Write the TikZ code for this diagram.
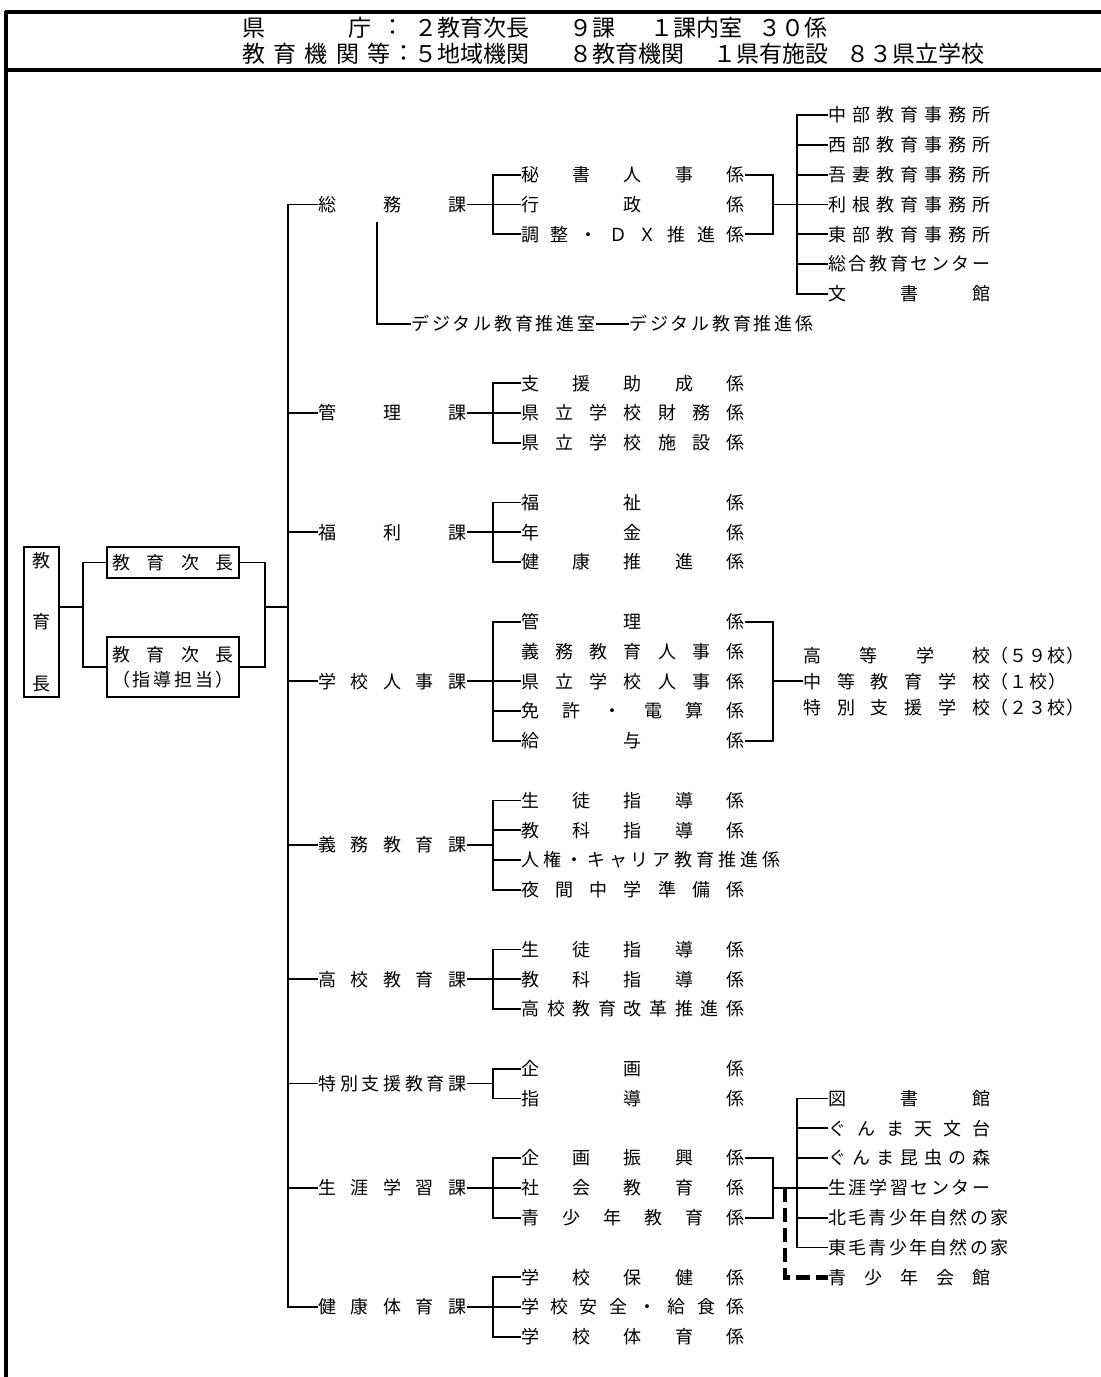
\documentclass[tikz,border=0pt]{standalone}
\usepackage{fontspec}
\setmainfont{Noto Sans CJK JP}
\usetikzlibrary{positioning}

\makeatletter
\newcommand\spreadtext[2]{\hbox to #1{\spr@first#2\@nil}}
\def\spr@first#1{#1\spr@rest}
\def\spr@rest#1{\ifx#1\@nil\else\hfil#1\expandafter\spr@rest\fi}
\makeatother
\newcommand\rowy[1]{115+29.8*#1}
\def\secw{74pt}
\def\subw{111.5pt}
\def\grpw{81pt}

\tikzset{
  org/.style={line width=0.9pt},
  frameline/.style={line width=2pt},
  lab/.style={anchor=west,inner sep=0pt,font=\fontsize{9pt}{11pt}\selectfont,text height=7.9pt,text depth=1.1pt},
  headtxt/.style={anchor=west,inner sep=0pt,font=\fontsize{11.5pt}{13pt}\selectfont},
  headbox/.style={draw,line width=0.9pt,inner sep=0pt,font=\fontsize{9pt}{12.5pt}\selectfont,align=center},
  dashlink/.style={line width=2.4pt,dash pattern=on 7pt off 3pt},
}

\begin{document}
\begin{tikzpicture}[x=0.5pt,y=-0.5pt]
\useasboundingbox (0,0) rectangle (1101,1377);
\fill[white] (0,0) rectangle (1101,1377);
% frame and header
\draw[frameline,line width=1.6pt] (5,12) -- (1101,12);
\draw[frameline,line width=2.2pt] (5,70) -- (1101,70);
\draw[frameline] (6,11) -- (6,1377);
\node[headtxt] (hken) at (242,28) {県};
\node[headtxt] (hchou) at (348,28) {庁};
\node[headtxt] (hcolona) at (381,28) {：};
\node[headtxt] (hjichou) at (414,28) {２教育次長};
\node[headtxt] (hka) at (569,28) {９課};
\node[headtxt] (hshitsu) at (650,28) {１課内室};
\node[headtxt] (hkakari) at (758,28) {３０係};
\node[headtxt] (hkikan) at (242,54) {\spreadtext{74pt}{教育機関等}};
\node[headtxt] (hcolonb) at (392,54) {：};
\node[headtxt] (hchiiki) at (414,54) {５地域機関};
\node[headtxt] (hkyouiku) at (569,54) {８教育機関};
\node[headtxt] (hshisetsu) at (713,54) {１県有施設};
\node[headtxt] (hgakkou) at (846,54) {８３県立学校};

% top of the tree
\node[headbox,minimum width=17.5pt,minimum height=75pt,font=\fontsize{9pt}{30.75pt}\selectfont] (chief) at (41.5,622) {教\\育\\長};
\node[headbox,minimum width=66pt,minimum height=15.5pt] (vice1) at (173,562.5) {\spreadtext{61pt}{教育次長}};
\node[headbox,minimum width=66pt,minimum height=30pt] (vice2) at (173,667) {\spreadtext{61pt}{教育次長}\\\spreadtext{61pt}{（指導担当）}};
\coordinate (jl) at (83,607);
\coordinate (jr) at (265,607);
\coordinate (trunk) at (288,607);
\coordinate (bk) at (493,0);
\coordinate (rb) at (773,0);
\coordinate (dv) at (785,0);
\coordinate (gv) at (797,0);
\draw[org] (chief.east |- jl) -- (jl);
\draw[org] (vice1.west) -| (jl) |- (vice2.west);
\draw[org] (vice1.east) -| (jr) |- (vice2.east);
\draw[org] (jr) -- (trunk);

% sections
\node[lab] (soumu) at (318,{\rowy{3}}) {\spreadtext{\secw}{総務課}};
\node[lab] (kanri) at (318,{\rowy{10}}) {\spreadtext{\secw}{管理課}};
\node[lab] (fukuri) at (318,{\rowy{14}}) {\spreadtext{\secw}{福利課}};
\node[lab] (jinji) at (318,{\rowy{19}}) {\spreadtext{\secw}{学校人事課}};
\node[lab] (gimu) at (318,{\rowy{24.5}}) {\spreadtext{\secw}{義務教育課}};
\node[lab] (koukou) at (318,{\rowy{29}}) {\spreadtext{\secw}{高校教育課}};
\node[lab] (tokushi) at (318,{\rowy{32.5}}) {\spreadtext{\secw}{特別支援教育課}};
\node[lab] (shougai) at (318,{\rowy{36}}) {\spreadtext{\secw}{生涯学習課}};
\node[lab] (kentai) at (318,{\rowy{40}}) {\spreadtext{\secw}{健康体育課}};

% units
\node[lab] (soumu1) at (521,{\rowy{2}}) {\spreadtext{\subw}{秘書人事係}};
\node[lab] (soumu2) at (521,{\rowy{3}}) {\spreadtext{\subw}{行政係}};
\node[lab] (soumu3) at (521,{\rowy{4}}) {\spreadtext{\subw}{調整・ＤＸ推進係}};
\node[lab] (kanri1) at (521,{\rowy{9}}) {\spreadtext{\subw}{支援助成係}};
\node[lab] (kanri2) at (521,{\rowy{10}}) {\spreadtext{\subw}{県立学校財務係}};
\node[lab] (kanri3) at (521,{\rowy{11}}) {\spreadtext{\subw}{県立学校施設係}};
\node[lab] (fukuri1) at (521,{\rowy{13}}) {\spreadtext{\subw}{福祉係}};
\node[lab] (fukuri2) at (521,{\rowy{14}}) {\spreadtext{\subw}{年金係}};
\node[lab] (fukuri3) at (521,{\rowy{15}}) {\spreadtext{\subw}{健康推進係}};
\node[lab] (jinji1) at (521,{\rowy{17}}) {\spreadtext{\subw}{管理係}};
\node[lab] (jinji2) at (521,{\rowy{18}}) {\spreadtext{\subw}{義務教育人事係}};
\node[lab] (jinji3) at (521,{\rowy{19}}) {\spreadtext{\subw}{県立学校人事係}};
\node[lab] (jinji4) at (521,{\rowy{20}}) {\spreadtext{\subw}{免許・電算係}};
\node[lab] (jinji5) at (521,{\rowy{21}}) {\spreadtext{\subw}{給与係}};
\node[lab] (gimu1) at (521,{\rowy{23}}) {\spreadtext{\subw}{生徒指導係}};
\node[lab] (gimu2) at (521,{\rowy{24}}) {\spreadtext{\subw}{教科指導係}};
\node[lab] (gimu3) at (521,{\rowy{25}}) {\spreadtext{129.5pt}{人権・キャリア教育推進係}};
\node[lab] (gimu4) at (521,{\rowy{26}}) {\spreadtext{\subw}{夜間中学準備係}};
\node[lab] (koukou1) at (521,{\rowy{28}}) {\spreadtext{\subw}{生徒指導係}};
\node[lab] (koukou2) at (521,{\rowy{29}}) {\spreadtext{\subw}{教科指導係}};
\node[lab] (koukou3) at (521,{\rowy{30}}) {\spreadtext{\subw}{高校教育改革推進係}};
\node[lab] (tokushi1) at (521,{\rowy{32}}) {\spreadtext{\subw}{企画係}};
\node[lab] (tokushi2) at (521,{\rowy{33}}) {\spreadtext{\subw}{指導係}};
\node[lab] (shougai1) at (521,{\rowy{35}}) {\spreadtext{\subw}{企画振興係}};
\node[lab] (shougai2) at (521,{\rowy{36}}) {\spreadtext{\subw}{社会教育係}};
\node[lab] (shougai3) at (521,{\rowy{37}}) {\spreadtext{\subw}{青少年教育係}};
\node[lab] (kentai1) at (521,{\rowy{39}}) {\spreadtext{\subw}{学校保健係}};
\node[lab] (kentai2) at (521,{\rowy{40}}) {\spreadtext{\subw}{学校安全・給食係}};
\node[lab] (kentai3) at (521,{\rowy{41}}) {\spreadtext{\subw}{学校体育係}};

% digital office
\node[lab] (dsitsu) at (411,{\rowy{7}}) {\spreadtext{92pt}{デジタル教育推進室}};
\node[lab] (dkakari) at (629,{\rowy{7}}) {\spreadtext{92pt}{デジタル教育推進係}};
\coordinate (dtop) at (377,222);
\draw[org] (dtop) |- (dsitsu.west);
\draw[org] (dsitsu.east) -- (dkakari.west);

% local offices
\node[lab] (chubu) at (828,{\rowy{0}}) {\spreadtext{\grpw}{中部教育事務所}};
\node[lab] (seibu) at (828,{\rowy{1}}) {\spreadtext{\grpw}{西部教育事務所}};
\node[lab] (agatsuma) at (828,{\rowy{2}}) {\spreadtext{\grpw}{吾妻教育事務所}};
\node[lab] (tone) at (828,{\rowy{3}}) {\spreadtext{\grpw}{利根教育事務所}};
\node[lab] (toubu) at (828,{\rowy{4}}) {\spreadtext{\grpw}{東部教育事務所}};
\node[lab] (sougou) at (828,{\rowy{5}}) {\spreadtext{\grpw}{総合教育センター}};
\node[lab] (bunsho) at (828,{\rowy{6}}) {\spreadtext{\grpw}{文書館}};

% schools
\node[lab] (koutou) at (803,{\rowy{19}-26}) {\spreadtext{93.5pt}{高等学校}\spreadtext{47pt}{（５９校）}};
\node[lab] (chutou) at (803,{\rowy{19}}) {\spreadtext{93.5pt}{中等教育学校}\spreadtext{38pt}{（１校）}};
\node[lab] (tokubetsu) at (803,{\rowy{19}+26}) {\spreadtext{93.5pt}{特別支援学校}\spreadtext{47pt}{（２３校）}};

% lifelong learning facilities
\node[lab] (toshokan) at (828,{\rowy{33}}) {\spreadtext{\grpw}{図書館}};
\node[lab] (tenmon) at (828,{\rowy{34}}) {\spreadtext{\grpw}{ぐんま天文台}};
\node[lab] (konchu) at (828,{\rowy{35}}) {\spreadtext{\grpw}{ぐんま昆虫の森}};
\node[lab] (center) at (828,{\rowy{36}}) {\spreadtext{\grpw}{生涯学習センター}};
\node[lab] (hokumou) at (828,{\rowy{37}}) {\spreadtext{90pt}{北毛青少年自然の家}};
\node[lab] (toumou) at (828,{\rowy{38}}) {\spreadtext{90pt}{東毛青少年自然の家}};
\node[lab] (kaikan) at (828,{\rowy{39}}) {\spreadtext{\grpw}{青少年会館}};

% trunk
\draw[org] (soumu.west) -| (trunk |- soumu.west) -- (trunk |- kentai.west) -- (kentai.west);
\foreach \s in {kanri,fukuri,jinji,gimu,koukou,tokushi,shougai}
  \draw[org] (trunk |- \s.west) -- (\s.west);

% brackets to units
\foreach \s/\a/\b in {soumu/1/3,kanri/1/3,fukuri/1/3,jinji/1/5,gimu/1/4,koukou/1/3,tokushi/1/2,shougai/1/3,kentai/1/3} {
  \draw[org] (\s.east) -- (\s.east -| bk);
  \draw[org] (\s\a.west) -| (\s.east -| bk) |- (\s\b.west);
}
\foreach \n in {soumu2,kanri2,fukuri2,jinji3,jinji4,gimu2,gimu3,koukou2,shougai2,kentai2}
  \draw[org] (bk |- \n.west) -- (\n.west);

% right hand links
\draw[org] (soumu1.east) -| (rb |- soumu2.west) |- (soumu3.east);
\draw[org] (rb |- soumu2.west) -- (tone.west);
\draw[org] (chubu.west) -| (gv |- bunsho.west) -- (bunsho.west);
\foreach \n in {seibu,agatsuma,toubu,sougou}
  \draw[org] (gv |- \n.west) -- (\n.west);
\draw[org] (jinji1.east) -| (rb |- jinji3.west) |- (jinji5.east);
\draw[org] (rb |- jinji3.west) -- (chutou.west);
\draw[org] (shougai1.east) -| (rb |- shougai2.west) |- (shougai3.east);
\draw[org] (rb |- shougai2.west) -- (center.west);
\draw[org] (toshokan.west) -| (gv |- toumou.west) -- (toumou.west);
\foreach \n in {tenmon,konchu,hokumou}
  \draw[org] (gv |- \n.west) -- (\n.west);
\draw[dashlink] (dv |- shougai2.west) |- (kaikan.west);
\end{tikzpicture}
\end{document}
